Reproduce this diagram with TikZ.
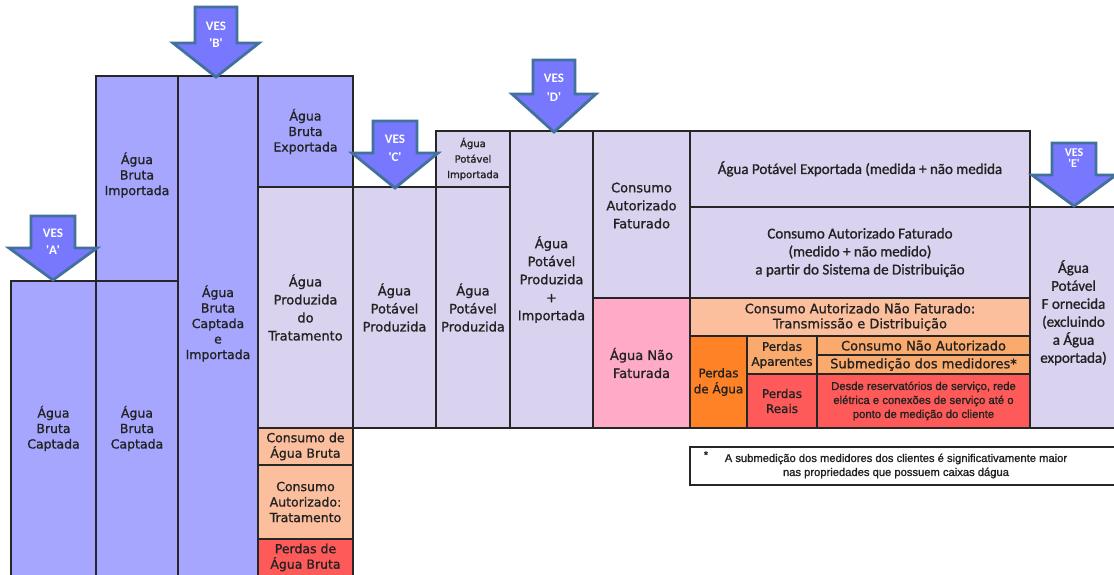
\documentclass[tikz,border=0pt]{standalone}
\usepackage{fontspec}
\setmainfont{DejaVu Sans}[FakeBold=1.1]
\newfontfamily\calfont{Carlito}[FakeBold=1.1]
\newfontfamily\vesfont{Carlito}
\newfontfamily\arifont{Liberation Sans}[FakeBold=1.3]
\definecolor{cblue}{HTML}{A6A6FF}
\definecolor{clav}{HTML}{D9D3EF}
\definecolor{cpeach}{HTML}{FCBF9E}
\definecolor{clor}{HTML}{FAAA6C}
\definecolor{corg}{HTML}{FF8226}
\definecolor{cred}{HTML}{FF5A5A}
\definecolor{cpink}{HTML}{FFABC8}
\definecolor{varrow}{HTML}{7878FF}
\definecolor{vborder}{HTML}{41719C}
\definecolor{ctext}{HTML}{222222}
\tikzset{
  boxst/.style={draw=black!85, line width=1.3pt, inner sep=0pt, align=center, text=ctext},
  blu/.style={fill=cblue},
  lav/.style={fill=clav},
  pch/.style={fill=cpeach},
  lor/.style={fill=clor},
  org/.style={fill=corg},
  red/.style={fill=cred},
  pnk/.style={fill=cpink},
  fA/.style={font=\fontsize{12.5}{15.5}\selectfont},
  fB/.style={font=\fontsize{13}{18}\selectfont},
  fS/.style={font=\fontsize{12}{15}\selectfont},
  fT/.style={font=\fontsize{10}{15.5}\selectfont},
  fC/.style={font=\calfont\fontsize{15}{18}\selectfont},
  fR/.style={font=\arifont\fontsize{11.3}{14}\selectfont},
  vesst/.style={fill=varrow, draw=vborder, line width=2.8pt, line join=miter},
  vestxt/.style={text=white, align=center, inner sep=0pt, font=\vesfont\bfseries\fontsize{13}{17}\selectfont},
  fnbox/.style={draw=black!85, line width=1.5pt, fill=white, minimum width=430pt, minimum height=38pt, inner sep=0pt},
  fntxt/.style={align=center, inner sep=0pt, text=ctext, font=\arifont\fontsize{11.2}{14}\selectfont}
}
\newcommand\bx[7]{\node[boxst,#6,minimum width={#4-#2},minimum height={#5-#3}] (#1) at ({(#2+#4)/2},{(#3+#5)/2}) {#7};}
\newcommand\vesarrow[6]{\draw[vesst] ({#1-#5},#2) -- ({#1+#5},#2) -- ({#1+#5},#3) -- ({#1+#6},#3) -- (#1,#4) -- ({#1-#6},#3) -- ({#1-#5},#3) -- cycle;}
\newcommand\q[1]{\textquotesingle#1\textquotesingle}
\begin{document}
\begin{tikzpicture}[x=1pt,y=-1pt]
\clip (0,0) rectangle (1114,574);
\fill[white] (0,0) rectangle (1114,574);
% blue columns
\bx{colA}{11}{281}{96}{576}{blu,fA}{Água\\Bruta\\Captada}
\bx{impB}{96}{76}{178}{281}{blu,fA}{Água\\Bruta\\Importada\\[-6pt]\mbox{}}
\bx{capB}{96}{281}{178}{576}{blu,fA}{Água\\Bruta\\Captada}
\bx{capImp}{178}{76}{258}{576}{blu,fA}{Água\\Bruta\\Captada\\e\\Importada\\[-8pt]\mbox{}}
\bx{expB}{258}{76}{353}{187}{blu,fA}{Água\\Bruta\\Exportada}
% treatment column
\bx{prodT}{258}{187}{353}{428}{lav,fB}{Água\\Produzida\\do\\Tratamento}
\bx{consAB}{258}{428}{353}{465}{pch,fA}{Consumo de\\Água Bruta}
\bx{consTr}{258}{465}{353}{539}{pch,fA}{Consumo\\Autorizado:\\Tratamento}
\bx{perdAB}{258}{539}{353}{576}{red,fA}{Perdas de\\Água Bruta}
% potable columns
\bx{potProdC}{353}{187}{436}{428}{lav,fB}{Água\\Potável\\Produzida}
\bx{potImp}{436}{131}{510}{187}{lav,fT}{Água\\Potável\\Importada}
\bx{potProd}{436}{187}{510}{428}{lav,fB}{Água\\Potável\\Produzida}
\bx{potPI}{510}{131}{593}{428}{lav,fB}{Água\\Potável\\Produzida\\+\\Importada}
\bx{caf}{593}{131}{690}{298}{lav,fB}{Consumo\\Autorizado\\Faturado\\\mbox{}}
\bx{anf}{593}{298}{690}{428}{pnk,fB}{Água Não\\Faturada}
% consumption block
\bx{apexp}{690}{131}{1030}{207}{lav,fC}{Água Potável Exportada (medida + não medida}
\bx{cafd}{690}{207}{1030}{298}{lav,fC}{Consumo Autorizado Faturado\\(medido + não medido)\\a partir do Sistema de Distribuição}
\bx{canf}{690}{298}{1030}{336}{pch,font=\fontsize{13}{15}\selectfont}{Consumo Autorizado Não Faturado:\\Transmissão e Distribuição}
\bx{pda}{690}{336}{747}{428}{org,font=\fontsize{12}{16}\selectfont}{Perdas\\de Água}
\bx{pap}{747}{336}{817}{374}{lor,fS}{Perdas\\Aparentes}
\bx{pre}{747}{374}{817}{428}{red,fS}{Perdas\\Reais}
\bx{cna}{817}{336}{1030}{355}{lor,fB}{Consumo Não Autorizado}
\bx{sub}{817}{355}{1030}{374}{lor,fB}{Submedição dos medidores*}
\bx{des}{817}{374}{1030}{428}{red,fR}{Desde reservatórios de serviço, rede\\elétrica e conexões de serviço até o\\ponto de medição do cliente}
\bx{apf}{1030}{207}{1117}{428}{lav,fC}{Água\\Potável\\F ornecida\\(excluindo\\a Água\\exportada)\\[-6pt]\mbox{}}
% footnote
\node[fnbox] (fn) at (905,466) {};
\node[fntxt] (fntext) at (896,466) {A submedição dos medidores dos clientes é significativamente maior\\nas propriedades que possuem caixas dágua};
\node[fntxt] (fnstar) at (706,455) {*};
% VES arrows
\vesarrow{53}{216}{248}{280}{22}{44}
\node[vestxt] (vesA) at (53,242) {VES\\\q{A}};
\vesarrow{216}{7}{43}{77}{21}{43}
\node[vestxt] (vesB) at (216,35) {VES\\\q{B}};
\vesarrow{395}{121}{153}{188}{22}{43}
\node[vestxt, font=\vesfont\bfseries\fontsize{13}{18}\selectfont] (vesC) at (395,148.5) {VES\\\q{C}};
\vesarrow{554}{60}{94}{132}{21}{42}
\node[vestxt, font=\vesfont\bfseries\fontsize{13}{19}\selectfont] (vesD) at (554,88) {VES\\\q{D}};
\vesarrow{1074}{143}{175}{206}{22}{42}
\node[vestxt, font=\vesfont\bfseries\fontsize{12}{11}\selectfont] (vesE) at (1074,158) {VES\\\q{E}};
\end{tikzpicture}
\end{document}
